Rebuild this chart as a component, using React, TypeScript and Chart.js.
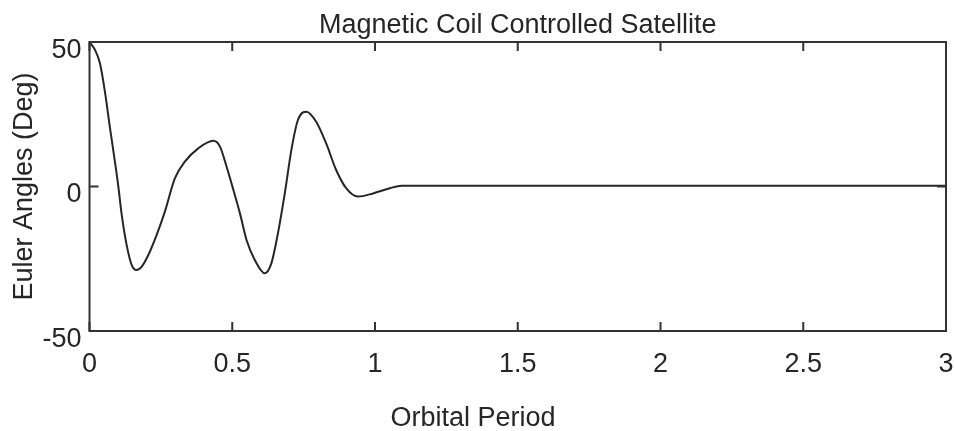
import React, { useEffect, useRef } from "react";
import { Chart, registerables } from "chart.js";

Chart.register(...registerables);

const chartTitle = "Magnetic Coil Controlled Satellite";
const xAxisTitle = "Orbital Period";
const yAxisTitle = "Euler Angles (Deg)";

const xTickValues = [0, 0.5, 1, 1.5, 2, 2.5, 3];
const xTickLabels = ["0", "0.5", "1", "1.5", "2", "2.5", "3"];
const yTickValues = [-50, 0, 50];
const yTickLabels = ["-50", "0", "50"];

const orbitalPeriod = [
  0, 0.019, 0.037, 0.054, 0.072, 0.089, 0.101, 0.113, 0.13, 0.148, 0.165,
  0.183, 0.206, 0.235, 0.264, 0.299, 0.334, 0.381, 0.434, 0.457, 0.48, 0.504,
  0.527, 0.55, 0.579, 0.614, 0.637, 0.66, 0.684, 0.707, 0.73, 0.76, 0.794,
  0.829, 0.864, 0.899, 0.94, 0.993, 1.052, 1.093, 3.0,
];

const eulerAngles = [
  50, 47.3, 42.5, 32.8, 20.1, 8.6, 0, -9.9, -20.2, -27.2, -28.9, -27.7, -23.7,
  -16.8, -8.7, 2.8, 8.6, 13.2, 15.8, 13.8, 6.9, -1.2, -9.3, -18.5, -25.4, -30,
  -26.6, -16.2, -2.4, 12.6, 23, 25.9, 22.4, 14.9, 5.7, -0.6, -3.5, -2.4, -0.6,
  0.3, 0.3,
];

const FONT = "'Liberation Sans', Arial, Helvetica, sans-serif";
const INK = "#262626";

const frameTicks = {
  id: "frameTicks",
  afterDatasetsDraw(chart: any) {
    const { ctx, chartArea: a, scales } = chart;
    const xs = scales.x;
    const ys = scales.y;
    const L = 9;
    ctx.save();
    ctx.strokeStyle = "#333";
    ctx.lineWidth = 2;
    ctx.strokeRect(a.left, a.top, a.right - a.left, a.bottom - a.top);
    ctx.beginPath();
    xTickValues.forEach((v) => {
      const px = xs.getPixelForValue(v);
      ctx.moveTo(px, a.bottom);
      ctx.lineTo(px, a.bottom - L);
      ctx.moveTo(px, a.top);
      ctx.lineTo(px, a.top + L);
    });
    yTickValues.forEach((v) => {
      const py = ys.getPixelForValue(v);
      ctx.moveTo(a.left, py);
      ctx.lineTo(a.left + L, py);
      ctx.moveTo(a.right, py);
      ctx.lineTo(a.right - L, py);
    });
    ctx.stroke();
    ctx.restore();
  },
};

export default function App() {
  const ref = useRef<HTMLCanvasElement | null>(null);

  useEffect(() => {
    if (!ref.current) return;
    const points = orbitalPeriod.map((t, i) => ({ x: t, y: eulerAngles[i] }));
    const chart = new Chart(ref.current, {
      type: "line",
      data: {
        datasets: [
          {
            data: points,
            borderColor: INK,
            borderWidth: 2,
            pointRadius: 0,
            fill: false,
            cubicInterpolationMode: "monotone",
          },
        ],
      },
      options: {
        responsive: false,
        animation: false,
        layout: { padding: { left: 0, right: 8, top: 0, bottom: 0 } },
        plugins: {
          legend: { display: false },
          tooltip: { enabled: false },
          title: {
            display: true,
            position: "bottom",
            text: xAxisTitle,
            color: INK,
            font: { family: FONT, size: 27, weight: "normal" },
            padding: { top: 0, bottom: -4 },
          },
        },
        scales: {
          x: {
            type: "linear",
            position: "bottom",
            min: 0,
            max: 3,
            afterBuildTicks: (s: any) => {
              s.ticks = xTickValues.map((v) => ({ value: v }));
            },
            afterFit: (s: any) => {
              s.height = 71.6;
              s.paddingLeft = 0;
              s.paddingRight = 0;
            },
            grid: { display: false, drawTicks: false },
            border: { display: false },
            ticks: {
              color: INK,
              padding: 17,
              maxRotation: 0,
              autoSkip: false,
              font: { family: FONT, size: 27 },
              callback: (v: any) => {
                const i = xTickValues.indexOf(Number(v));
                return i >= 0 ? xTickLabels[i] : "";
              },
            },
          },
          x2: {
            type: "linear",
            axis: "x",
            position: "top",
            min: 0,
            max: 3,
            afterFit: (s: any) => {
              s.height = 42;
              s.paddingLeft = 0;
              s.paddingRight = 0;
            },
            grid: { display: false, drawTicks: false },
            border: { display: false },
            ticks: { display: false },
            title: {
              display: true,
              text: chartTitle,
              color: INK,
              font: { family: FONT, size: 27 },
              padding: { top: 9, bottom: 0 },
            },
          },
          y: {
            type: "linear",
            position: "left",
            min: -50,
            max: 50,
            afterBuildTicks: (s: any) => {
              s.ticks = yTickValues.map((v) => ({ value: v }));
            },
            afterFit: (s: any) => {
              s.width = 89.5;
              s.paddingTop = 0;
              s.paddingBottom = 0;
            },
            grid: { display: false, drawTicks: false },
            border: { display: false },
            ticks: {
              color: INK,
              padding: 8,
              labelOffset: 8.5,
              font: { family: FONT, size: 27 },
              callback: (v: any) => {
                const i = yTickValues.indexOf(Number(v));
                return i >= 0 ? yTickLabels[i] : "";
              },
            },
            title: {
              display: true,
              text: yAxisTitle,
              color: INK,
              font: { family: FONT, size: 27 },
              padding: { top: 8, bottom: 0 },
            },
          },
        },
      },
      plugins: [frameTicks],
    } as any);
    return () => chart.destroy();
  }, []);

  return (
    <div
      style={{
        position: "fixed",
        left: 0,
        top: 0,
        width: 954,
        height: 431,
        background: "#fff",
      }}
    >
      <canvas ref={ref} width={954} height={431} />
    </div>
  );
}
